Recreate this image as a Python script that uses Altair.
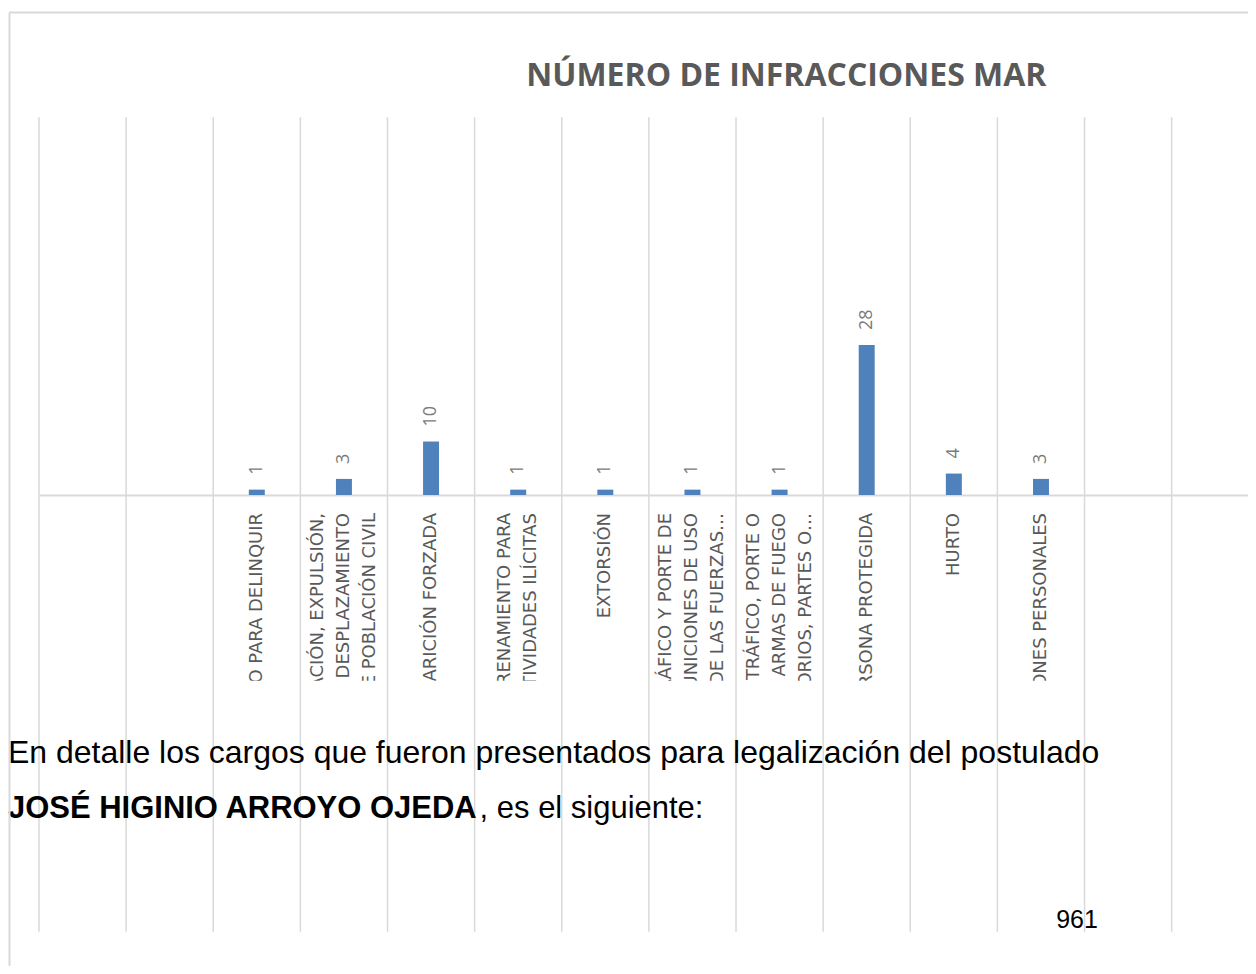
import altair as alt
import pandas as pd

# ---- data ----
categories = [
    "",
    "",
    "CONCIERTO PARA DELINQUIR",
    "DEPORTACIÓN, EXPULSIÓN,\nTRASLADO O DESPLAZAMIENTO\nFORZADO DE POBLACIÓN CIVIL",
    "DESAPARICIÓN FORZADA",
    "ENTRENAMIENTO PARA\nACTIVIDADES ILÍCITAS",
    "EXTORSIÓN",
    "FABRICACIÓN, TRÁFICO Y PORTE DE\nARMAS Y MUNICIONES DE USO\nPRIVATIVO DE LAS FUERZAS…",
    "FABRICACIÓN, TRÁFICO, PORTE O\nTENENCIA DE ARMAS DE FUEGO\nACCESORIOS, PARTES O…",
    "HOMICIDIO EN PERSONA PROTEGIDA",
    "HURTO",
    "LESIONES PERSONALES",
    "",
    "",
]
values = [None, None, 1, 3, 10, 1, 1, 1, 1, 28, 4, 3, None, None]

title_text = "NÚMERO DE INFRACCIONES MAR"
doc_line1 = "En detalle los cargos que fueron presentados para legalización del postulado"
doc_bold = "JOSÉ HIGINIO ARROYO OJEDA"
doc_rest = ", es el siguiente:"
page_number = "961"

# ---- tables ----
n = len(categories)
cat_df = pd.DataFrame({
    "pos": [i + 0.5 for i in range(n)],
    "label": categories,
    "nlines": [c.count("\n") + 1 for c in categories],
})
bar_df = pd.DataFrame(
    {"pos": [i + 0.5 for i, v in enumerate(values) if v is not None],
     "value": [v for v in values if v is not None]}
)
grid_df = pd.DataFrame({"edge": list(range(n))})
one = pd.DataFrame({"k": [0]})

BAND = 87.2
LH = 26
xscale = alt.Scale(domain=[0, n], range=[0, n * BAND], nice=False, zero=False, padding=0)
yscale = alt.Scale(domain=[0, 70.5], nice=False)
GRID = "#d9d9d9"

xaxis = alt.Axis(labels=False, ticks=False, grid=False, title=None,
                 domainColor=GRID, domainWidth=2)


def label_layer(k):
    return alt.Chart(cat_df).transform_filter(alt.datum.nlines == k).mark_text(
        angle=270, align="right", baseline="middle", lineBreak="\n", lineHeight=LH,
        dy=-(k - 1) * LH / 2, font="DejaVu Sans", fontSize=18, color="#595959"
    ).encode(x=alt.X("pos:Q", scale=xscale, axis=xaxis), y=alt.value(396), text="label:N")


labels = [label_layer(k) for k in (1, 2, 3)]

mask = alt.Chart(one).mark_rect(color="white").encode(
    x=alt.value(0), x2=alt.value(n * BAND), y=alt.value(564), y2=alt.value(810)
)

grid = alt.Chart(grid_df).mark_rule(color=GRID, strokeWidth=1.5).encode(
    x=alt.X("edge:Q", scale=xscale, axis=xaxis), y=alt.value(0), y2=alt.value(815)
)

bars = alt.Chart(bar_df).mark_bar(color="#4F81BD", size=16).encode(
    x=alt.X("pos:Q", scale=xscale, axis=xaxis),
    y=alt.Y("value:Q", scale=yscale, axis=None),
)

value_labels = alt.Chart(bar_df).mark_text(
    angle=270, align="left", baseline="middle", dx=15,
    font="Open Sans", fontSize=18, color="#7a7a7a"
).encode(
    x=alt.X("pos:Q", scale=xscale, axis=xaxis),
    y=alt.Y("value:Q", scale=yscale, axis=None),
    text="value:Q",
)

title = alt.Chart(one).mark_text(
    align="center", baseline="alphabetic", font="Open Sans", fontWeight="bold",
    fontSize=32, color="#595959"
).encode(x=alt.value(748), y=alt.value(-31), text=alt.value(title_text))

doc1 = alt.Chart(one).mark_text(
    align="left", baseline="alphabetic", font="Liberation Sans", fontSize=32, color="black"
).encode(x=alt.value(-31), y=alt.value(646), text=alt.value(doc_line1))

doc2a = alt.Chart(one).mark_text(
    align="left", baseline="alphabetic", font="Liberation Sans", fontSize=31,
    fontWeight="bold", color="black"
).encode(x=alt.value(-31), y=alt.value(701), text=alt.value(doc_bold))

doc2b = alt.Chart(one).mark_text(
    align="left", baseline="alphabetic", font="Liberation Sans", fontSize=31, color="black"
).encode(x=alt.value(441), y=alt.value(701), text=alt.value(doc_rest))

pnum = alt.Chart(one).mark_text(
    align="left", baseline="alphabetic", font="Liberation Sans", fontSize=25, color="black"
).encode(x=alt.value(1018), y=alt.value(811), text=alt.value(page_number))

border_top = alt.Chart(one).mark_rule(color=GRID, strokeWidth=2).encode(
    x=alt.value(-30), x2=alt.value(n * BAND), y=alt.value(-105)
)
border_left = alt.Chart(one).mark_rule(color=GRID, strokeWidth=2).encode(
    x=alt.value(-29.5), y=alt.value(-105), y2=alt.value(860)
)

chart = alt.layer(
    *labels, mask, grid, bars, value_labels, title, doc1, doc2a, doc2b, pnum,
    border_top, border_left
).properties(
    width=1210, height=378,
    autosize=alt.AutoSizeParams(type="none"),
    padding={"left": 31, "top": 109, "right": 0, "bottom": 471},
).configure_view(stroke=None)

chart.save("out.html", embed_options={"renderer": "svg", "actions": False})
